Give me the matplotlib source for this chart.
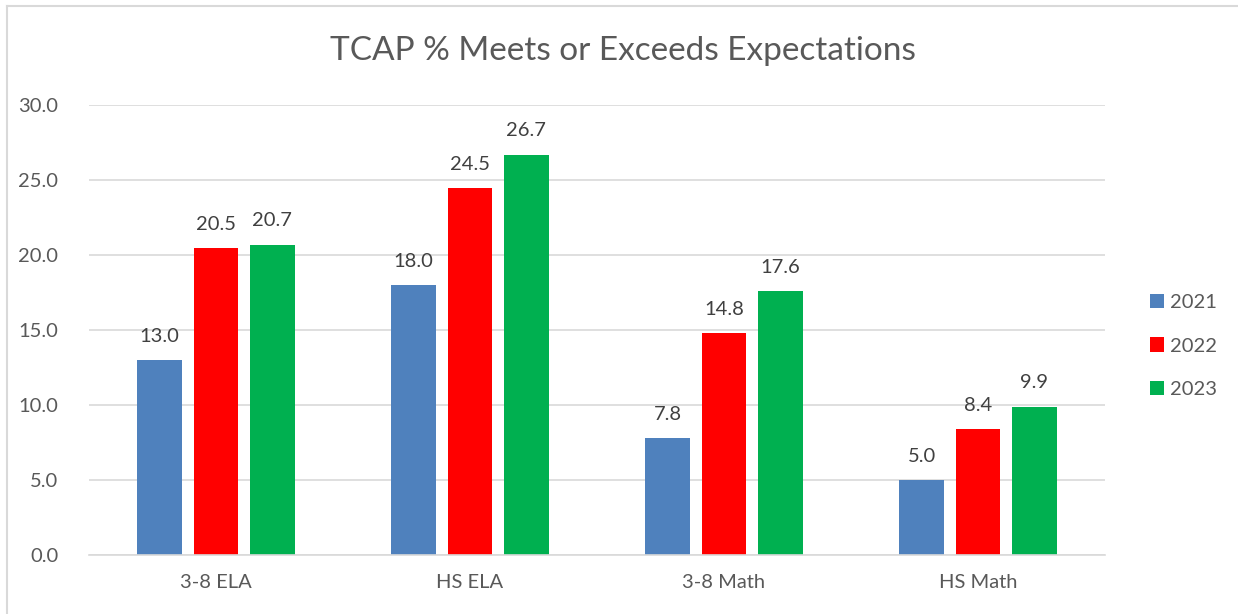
import matplotlib.pyplot as plt
from matplotlib.lines import Line2D
import numpy as np

plt.rcParams['font.family'] = ['Lato', 'DejaVu Sans']

categories = ['3-8 ELA', 'HS ELA', '3-8 Math', 'HS Math']
years = ['2021', '2022', '2023']
v2021 = [13.0, 18.0, 7.8, 5.0]
v2022 = [20.5, 24.5, 14.8, 8.4]
v2023 = [20.7, 26.7, 17.6, 9.9]
colors = ['#4F81BD', '#FF0000', '#00B050']

txt = '#595959'
W, H = 1238, 614
fig = plt.figure(figsize=(W / 100, H / 100), dpi=100)
ax = fig.add_axes([89 / W, 1 - 555 / H, (1105 - 89) / W, (555 - 105) / H])

x = np.arange(len(categories))
bw = 0.177
step = 0.222
for i, (vals, yr) in enumerate(zip([v2021, v2022, v2023], years)):
    bars = ax.bar(x + (i - 1) * step, vals, bw, color=colors[i], label=yr, zorder=2)
    for b, v in zip(bars, vals):
        ax.text(b.get_x() + b.get_width() / 2, v + 1.0, f'{v:.1f}',
                ha='center', va='bottom', fontsize=14.5, color='#404040')

ax.set_xlim(-0.5, 3.5)
ax.set_ylim(0, 30)
ax.set_yticks(np.arange(0, 31, 5))
ax.set_yticklabels([f'{t:.1f}' for t in np.arange(0, 31, 5)])
ax.set_xticks(x)
ax.set_xticklabels(categories)
ax.tick_params(axis='both', length=0, labelsize=14.5, labelcolor=txt)
ax.tick_params(axis='y', pad=22)
ax.tick_params(axis='x', pad=14)
ax.yaxis.grid(True, color='#D9D9D9', linewidth=1.2, zorder=0)
ax.set_axisbelow(True)
for s in ['top', 'right', 'left']:
    ax.spines[s].set_visible(False)
ax.spines['bottom'].set_color('#D9D9D9')
ax.spines['bottom'].set_linewidth(1.2)

fig.text(623 / W, 1 - 51 / H, 'TCAP % Meets or Exceeds Expectations',
         ha='center', va='center', fontsize=24, color=txt)

leg = fig.legend(loc='center left', bbox_to_anchor=(1132 / W, 1 - 346 / H),
                 frameon=False, fontsize=14.5, labelcolor=txt,
                 handlelength=0.7, handleheight=0.7, handletextpad=0.3,
                 labelspacing=1.3)

# chart border (top and left visible)
fig.add_artist(Line2D([7 / W, 7 / W], [0, 1 - 6 / H], transform=fig.transFigure,
                      color='#D9D9D9', linewidth=1.5))
fig.add_artist(Line2D([7 / W, 1], [1 - 6 / H, 1 - 6 / H], transform=fig.transFigure,
                      color='#D9D9D9', linewidth=1.5))

fig.savefig('out.png', dpi=100)
